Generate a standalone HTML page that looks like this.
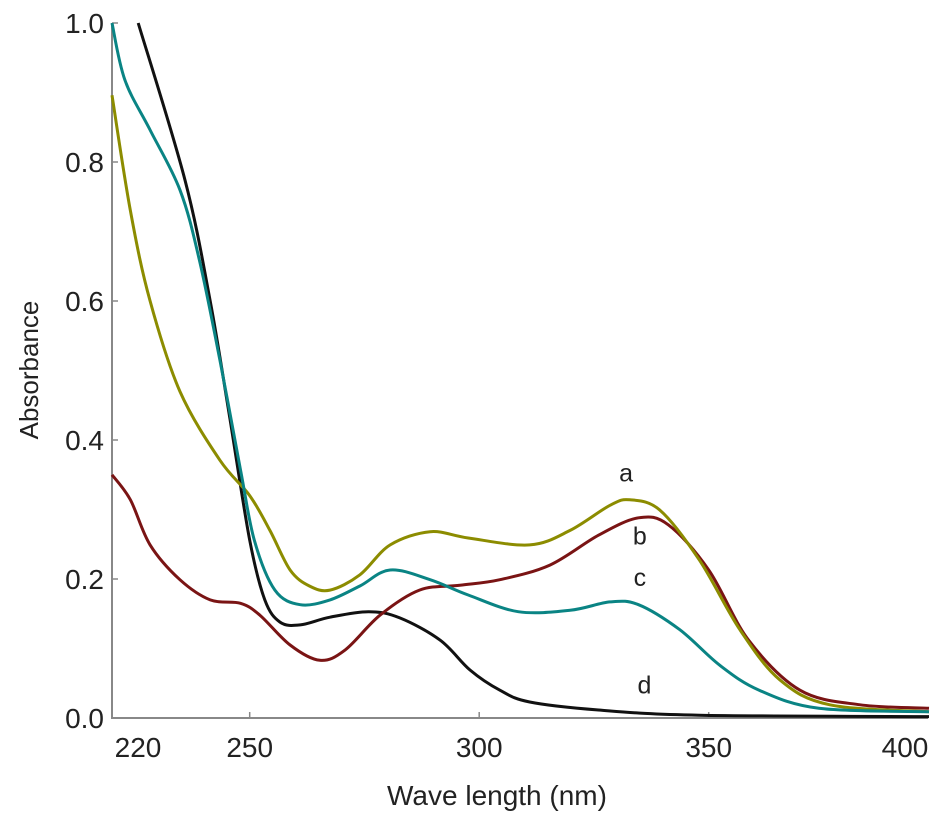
<!DOCTYPE html>
<html><head><meta charset="utf-8"><style>
html,body{margin:0;padding:0;background:#fff;}
svg{display:block;font-family:"Liberation Sans",Arial,sans-serif;}
</style></head><body>
<svg id="chart" width="945" height="822" viewBox="0 0 945 822">
<g id="axes"></g><g id="series"></g><g id="labels"></g>
</svg>
<script>
const xTicks=[220,250,300,350,400];
const yTicks=[0.0,0.2,0.4,0.6,0.8,1.0];
const yTickLabels=["0.0","0.2","0.4","0.6","0.8","1.0"];
const seriesNames=["a","b","c","d"];
const seriesColors=["#8c8c00","#7a1414","#0a8484","#111111"];
const aX=[220,224,228.3,234.8,243.5,250,254.4,258.8,263,267.5,274,280.6,289.3,297.6,311,319.8,328.5,332.8,339.4,348,356.8,365.5,376.4,398];
const aY=[0.896,0.73,0.60,0.47,0.371,0.32,0.27,0.213,0.19,0.184,0.206,0.249,0.268,0.259,0.249,0.27,0.306,0.314,0.299,0.227,0.127,0.055,0.019,0.009];
const bX=[220,224,228.3,234.8,241.4,248,252.2,258.8,265.3,270.8,278.4,287,295.8,304.5,315.4,326,334.7,341.2,350,358.7,369.9,383,398];
const bY=[0.35,0.314,0.249,0.199,0.17,0.165,0.148,0.105,0.083,0.098,0.148,0.184,0.191,0.199,0.22,0.263,0.288,0.278,0.213,0.112,0.04,0.019,0.014];
const cX=[220,222.8,228.3,234.8,239,243.5,248,251,255.5,261,267.5,274,280.6,289.3,297.6,308.5,319.8,328.5,334.7,343.7,352.4,361,374,398];
const cY=[1.0,0.918,0.846,0.76,0.66,0.515,0.357,0.256,0.184,0.163,0.17,0.19,0.213,0.199,0.177,0.153,0.155,0.167,0.163,0.127,0.076,0.04,0.014,0.009];
const dX=[225.7,235.9,241.4,245.7,250,253.3,256.6,261,267.5,276,282.7,291.5,298,304.5,311,326,348,398];
const dY=[1.0,0.774,0.60,0.43,0.256,0.17,0.138,0.134,0.145,0.153,0.144,0.112,0.069,0.04,0.023,0.0115,0.004,0.002];
const labelX=[332,335,335,336];
const labelY=[0.34,0.25,0.19,0.035];

const X0=112,XS=4.59,Y0=718,YS=695;
function sx(v){return X0+(v-220)*XS;}
function sy(v){return Y0-v*YS;}
const NS="http://www.w3.org/2000/svg";
function mk(tag,parent,attrs){const e=document.createElementNS(NS,tag);for(const k in attrs)e.setAttribute(k,attrs[k]);document.getElementById(parent).appendChild(e);return e;}
function smooth(P){
 let d="M"+P[0][0].toFixed(1)+","+P[0][1].toFixed(1);
 for(let i=0;i<P.length-1;i++){
  const p0=P[Math.max(0,i-1)],p1=P[i],p2=P[i+1],p3=P[Math.min(P.length-1,i+2)];
  const c1x=p1[0]+(p2[0]-p0[0])/6,c1y=p1[1]+(p2[1]-p0[1])/6;
  const c2x=p2[0]-(p3[0]-p1[0])/6,c2y=p2[1]-(p3[1]-p1[1])/6;
  d+=" C"+c1x.toFixed(1)+","+c1y.toFixed(1)+" "+c2x.toFixed(1)+","+c2y.toFixed(1)+" "+p2[0].toFixed(1)+","+p2[1].toFixed(1);
 }
 return d;
}

let e=mk("line","axes",{x1:X0,y1:sy(0),x2:928,y2:sy(0),stroke:"#888","stroke-width":2});


e=mk("line","axes",{x1:X0,y1:sy(0)+1,x2:X0,y2:sy(1),stroke:"#888","stroke-width":2});


xTicks.forEach((t,i)=>{
 if(t>220&&t<400){const tk=mk("line","axes",{x1:sx(t),y1:sy(0),x2:sx(t),y2:sy(0)-6,stroke:"#888","stroke-width":1.5});
 
 }
 let lx=sx(t); if(t===220)lx=138; if(t===400)lx=905;
 const tl=mk("text","axes",{x:lx,y:757,"font-size":28,"text-anchor":"middle",fill:"#222"});
 tl.textContent=String(t);
 
 
});
yTicks.forEach((t,i)=>{
 const tk=mk("line","axes",{x1:X0,y1:sy(t),x2:X0+6,y2:sy(t),stroke:"#888","stroke-width":1.5});
 
 
 const tl=mk("text","axes",{x:104,y:sy(t)+10,"font-size":28,"text-anchor":"end",fill:"#222"});
 tl.textContent=yTickLabels[i];
 
 
});
e=mk("text","axes",{x:497,y:805,"font-size":28,"text-anchor":"middle",fill:"#222"});
e.textContent="Wave length (nm)";


e=mk("text","axes",{x:0,y:0,"font-size":26,"text-anchor":"middle",fill:"#222",transform:"translate(38,370) rotate(-90)"});
e.textContent="Absorbance";



const xs=[aX,bX,cX,dX],ys=[aY,bY,cY,dY];
[3,1,0,2].forEach(i=>{
 const P=xs[i].map((v,j)=>[sx(v),sy(ys[i][j])]);
 const p=mk("path","series",{d:smooth(P),fill:"none",stroke:seriesColors[i],"stroke-width":3,"stroke-linejoin":"round"});
 
 
 const l=mk("text","labels",{x:sx(labelX[i]),y:sy(labelY[i]),"font-size":25,"text-anchor":"middle",fill:"#222"});
 l.textContent=seriesNames[i];
 
 
});
</script>
</body></html>
